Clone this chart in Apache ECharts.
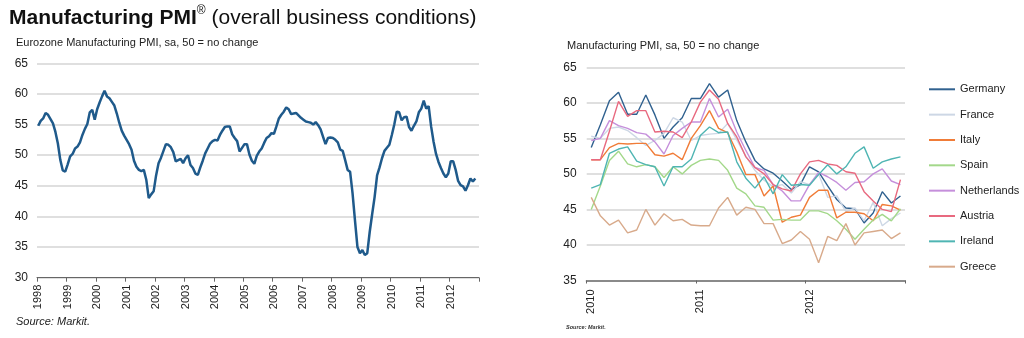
<!DOCTYPE html>
<html>
<head>
<meta charset="utf-8">
<script src="https://cdn.jsdelivr.net/npm/echarts@6/dist/echarts.min.js"></script>
<style>
  html, body { margin: 0; padding: 0; background: #ffffff; }
  #chart { width: 1024px; height: 338px; }
</style>
</head>
<body>
<div id="chart"></div>
<script>
const FONT = '"Liberation Sans", Arial, Helvetica, sans-serif';

// ---- Eurozone manufacturing PMI, monthly, Jan 1998 .. Nov 2012 ----
const ezYears = ['1998','1999','2000','2001','2002','2003','2004','2005','2006','2007','2008','2009','2010','2011','2012'];
const ezYTicks = [30, 35, 40, 45, 50, 55, 60, 65];
const ezPmi = [
  54.8, 55.6, 56.0, 56.9, 56.6, 55.9, 55.2, 53.8, 51.9, 49.2, 47.5, 47.3, // 1998
  48.5, 49.8, 50.2, 51.1, 51.4, 52.1, 53.3, 54.3, 55.1, 57.0, 57.4, 55.8, // 1999
  57.5, 58.6, 59.6, 60.5, 59.6, 59.3, 58.7, 58.1, 56.8, 55.3, 54.0, 53.2, // 2000
  52.5, 51.8, 50.9, 49.1, 48.1, 47.6, 47.4, 47.6, 46.0, 43.0, 43.6, 44.1, // 2001
  46.7, 48.7, 49.6, 50.7, 51.8, 51.7, 51.3, 50.5, 49.0, 49.2, 49.4, 48.7, // 2002
  49.5, 50.0, 48.4, 47.9, 47.0, 46.8, 48.0, 49.1, 50.3, 51.1, 51.9, 52.3, // 2003
  52.5, 52.4, 53.3, 54.0, 54.6, 54.7, 54.7, 53.4, 52.8, 52.3, 50.6, 51.2, // 2004
  51.8, 51.8, 50.1, 49.1, 48.6, 49.9, 50.6, 51.1, 52.0, 52.8, 53.1, 53.6, // 2005
  53.5, 54.7, 56.0, 56.6, 57.1, 57.8, 57.5, 56.7, 56.8, 56.9, 56.5, 56.1, // 2006
  55.8, 55.5, 55.4, 55.3, 55.0, 55.4, 54.9, 54.2, 53.0, 51.8, 52.8, 52.9, // 2007
  52.8, 52.5, 52.1, 50.9, 50.7, 49.2, 47.6, 47.3, 43.8, 39.3, 35.0, 34.0, // 2008
  34.5, 33.7, 34.0, 37.5, 40.4, 43.2, 46.7, 48.0, 49.5, 50.7, 51.2, 51.7, // 2009
  53.3, 55.0, 57.1, 57.0, 55.7, 56.2, 56.3, 54.6, 54.0, 54.8, 55.5, 57.0, // 2010
  57.6, 58.9, 57.6, 58.0, 54.7, 52.2, 50.2, 48.9, 47.9, 47.0, 46.4, 47.0, // 2011
  49.0, 49.0, 47.6, 45.8, 45.1, 44.9, 44.2, 45.1, 46.2, 45.7, 46.2        // 2012
];

// ---- Country manufacturing PMIs, monthly, Jan 2010 .. Nov 2012 ----
const ctYears = ['2010', '2011', '2012'];
const ctYTicks = [35, 40, 45, 50, 55, 60, 65];
const germany = [53.7, 56.9, 60.3, 61.5, 58.4, 58.4, 61.1, 58.3, 55.0, 56.6, 57.9, 60.6,
                 60.6, 62.7, 60.8, 61.8, 57.5, 54.5, 51.9, 50.7, 50.1, 49.0, 47.8, 48.5,
                 51.0, 50.3, 48.3, 46.4, 45.2, 45.1, 43.1, 44.5, 47.5, 45.9, 46.9];
const france = [55.3, 55.0, 56.4, 56.6, 56.1, 55.1, 54.0, 54.7, 55.7, 57.9, 57.3, 54.7,
                55.4, 55.6, 55.7, 57.1, 54.8, 52.5, 50.5, 49.1, 48.2, 48.5, 47.3, 48.9,
                48.5, 50.0, 46.7, 46.9, 44.7, 45.2, 43.4, 46.0, 42.7, 43.7, 44.5];
const italy = [52.0, 52.0, 53.7, 54.3, 54.2, 54.3, 54.3, 52.7, 52.5, 52.9, 52.0, 55.0,
               56.8, 58.9, 56.4, 55.8, 53.1, 49.9, 49.9, 46.9, 48.3, 43.2, 43.9, 44.2,
               46.7, 47.7, 47.7, 43.8, 44.6, 44.6, 44.4, 43.4, 45.7, 45.5, 44.9];
const spain = [45.0, 48.3, 51.9, 53.2, 51.4, 51.0, 51.3, 51.0, 49.5, 51.0, 50.0, 51.2,
               51.9, 52.1, 51.9, 50.5, 48.0, 47.2, 45.5, 45.3, 43.5, 43.6, 43.5, 43.5,
               44.8, 44.8, 44.4, 43.4, 42.2, 40.8, 42.2, 43.5, 44.3, 43.4, 45.1];
const netherlands = [54.7, 55.0, 57.5, 56.8, 56.4, 55.8, 55.6, 54.5, 52.8, 55.4, 56.4, 57.3,
                     57.3, 60.6, 58.0, 59.1, 55.9, 53.3, 50.9, 50.5, 48.5, 47.6, 46.2, 46.2,
                     48.5, 50.2, 49.6, 48.8, 47.7, 48.8, 48.9, 50.0, 50.7, 49.0, 48.5];
const austria = [52.0, 52.0, 56.0, 60.2, 58.1, 58.9, 58.9, 55.9, 56.0, 55.9, 55.1, 57.3,
                 60.1, 61.8, 60.5, 57.1, 55.2, 52.4, 50.9, 50.0, 48.5, 47.9, 47.6, 50.0,
                 51.7, 51.9, 51.4, 51.2, 50.3, 50.1, 47.5, 46.2, 45.0, 44.7, 49.2];
const ireland = [48.0, 48.5, 52.9, 53.5, 53.8, 51.8, 51.3, 51.0, 48.3, 51.0, 51.0, 52.1,
                 55.4, 56.6, 55.8, 55.9, 51.7, 49.4, 48.0, 49.6, 47.2, 49.9, 48.4, 48.5,
                 48.4, 49.9, 51.3, 50.0, 51.0, 52.9, 53.8, 50.8, 51.7, 52.1, 52.4];
const greece = [46.7, 44.1, 42.8, 43.5, 41.7, 42.1, 45.0, 42.8, 44.4, 43.4, 43.6, 42.8,
                42.7, 42.7, 45.2, 46.7, 44.2, 45.3, 45.0, 43.0, 43.0, 40.2, 40.7, 41.9,
                40.8, 37.5, 41.2, 40.6, 43.0, 40.0, 41.7, 41.9, 42.1, 40.9, 41.7];

const countries = ['Germany', 'France', 'Italy', 'Spain', 'Netherlands', 'Austria', 'Ireland', 'Greece'];
const countryValues = [germany, france, italy, spain, netherlands, austria, ireland, greece];
const countryColors = ['#30618f', '#cdd7e5', '#f07c38', '#a3d88a', '#c58fdb', '#e8697f', '#4fb5b3', '#d8aa8b'];

// month categories "YYYY-MM" for each full year on an axis
function monthCats(years) {
  const out = [];
  years.forEach(y => { for (let m = 1; m <= 12; m++) out.push(y + '-' + (m < 10 ? '0' + m : m)); });
  return out;
}
const ezCats = monthCats(ezYears);                // Jan 1998 .. Dec 2012
const ctCats = monthCats(ctYears).slice(0, 35);   // Jan 2010 .. Nov 2012

const janOnly = (idx) => idx % 12 === 0;
const yearOf = (v) => v.slice(0, 4);

const chart = echarts.init(document.getElementById('chart'), null, { renderer: 'canvas' });

const gridLine = { show: true, lineStyle: { color: '#d5d5d5', width: 1.5 } };
const axisText = { color: '#222', fontFamily: FONT, fontSize: 12 };

const option = {
  backgroundColor: '#ffffff',
  animation: false,
  title: [{
    left: 9, top: 5, padding: 0,
    text: '{b|Manufacturing PMI}{s|®}{n| (overall business conditions)}',
    textStyle: {
      fontWeight: 'normal',
      rich: {
        b: { fontFamily: FONT, fontSize: 21, fontWeight: 'bold', color: '#111', lineHeight: 26 },
        s: { fontFamily: FONT, fontSize: 12, fontWeight: 'normal', color: '#111', verticalAlign: 'top', lineHeight: 12 },
        n: { fontFamily: FONT, fontSize: 21, fontWeight: 'normal', color: '#111', lineHeight: 26 }
      }
    }
  }],
  graphic: [
    { type: 'text', x: 16, y: 43, style: { text: 'Eurozone Manufacturing PMI, sa, 50 = no change', fontFamily: FONT, fontSize: 11, fill: '#222', verticalAlign: 'middle' } },
    { type: 'text', x: 567, y: 46, style: { text: 'Manufacturing PMI, sa, 50 = no change', fontFamily: FONT, fontSize: 11, fill: '#222', verticalAlign: 'middle' } },
    { type: 'text', x: 16, y: 322, style: { text: 'Source: Markit.', fontFamily: FONT, fontSize: 11, fontStyle: 'italic', fill: '#222', verticalAlign: 'middle' } },
    { type: 'text', x: 566, y: 327, style: { text: 'Source: Markit.', fontFamily: FONT, fontSize: 5.5, fontStyle: 'italic', fontWeight: 'bold', fill: '#333', verticalAlign: 'middle' } }
  ],
  legend: {
    orient: 'vertical',
    left: 929, top: 82.3, padding: 0,
    icon: 'rect',
    itemWidth: 26, itemHeight: 2, itemGap: 11.34,
    data: countries,
    textStyle: { fontFamily: FONT, fontSize: 11, color: '#222', lineHeight: 14 }
  },
  grid: [
    { left: 37, right: 545, top: 63.3, bottom: 60.3 },
    { left: 586.7, right: 119, top: 67.3, bottom: 57.5 }
  ],
  xAxis: [
    {
      type: 'category', gridIndex: 0, data: ezCats, boundaryGap: true,
      axisLine: { show: true, lineStyle: { color: '#666', width: 1 } },
      axisTick: { show: true, interval: janOnly, length: 4, lineStyle: { color: '#666' } },
      axisLabel: Object.assign({ interval: janOnly, rotate: 90, margin: 7, formatter: yearOf }, axisText, { fontSize: 11 }),
      splitLine: { show: false }
    },
    {
      type: 'category', gridIndex: 1, data: ctCats, boundaryGap: true,
      axisLine: { show: true, lineStyle: { color: '#8a8a8a', width: 2 } },
      axisTick: { show: true, interval: janOnly, length: 3, lineStyle: { color: '#666' } },
      axisLabel: Object.assign({ interval: janOnly, rotate: 90, margin: 9, formatter: yearOf }, axisText, { fontSize: 11 }),
      splitLine: { show: false }
    }
  ],
  yAxis: [
    {
      type: 'value', gridIndex: 0, min: ezYTicks[0], max: ezYTicks[ezYTicks.length - 1], interval: 5,
      axisLine: { show: false }, axisTick: { show: false },
      axisLabel: Object.assign({ margin: 9 }, axisText),
      splitLine: gridLine
    },
    {
      type: 'value', gridIndex: 1, min: ctYTicks[0], max: ctYTicks[ctYTicks.length - 1], interval: 5,
      axisLine: { show: false }, axisTick: { show: false },
      axisLabel: Object.assign({ margin: 10 }, axisText),
      splitLine: gridLine
    }
  ],
  series: [
    {
      name: 'Eurozone', type: 'line', xAxisIndex: 0, yAxisIndex: 0,
      data: ezPmi, symbol: 'none',
      lineStyle: { color: '#1f5a8b', width: 2.5 },
      itemStyle: { color: '#1f5a8b' }
    }
  ].concat(countries.map((name, k) => ({
    name: name, type: 'line', xAxisIndex: 1, yAxisIndex: 1,
    data: countryValues[k], symbol: 'none',
    lineStyle: { color: countryColors[k], width: 1.4 },
    itemStyle: { color: countryColors[k] }
  })))
};

chart.setOption(option);
</script>
</body>
</html>
